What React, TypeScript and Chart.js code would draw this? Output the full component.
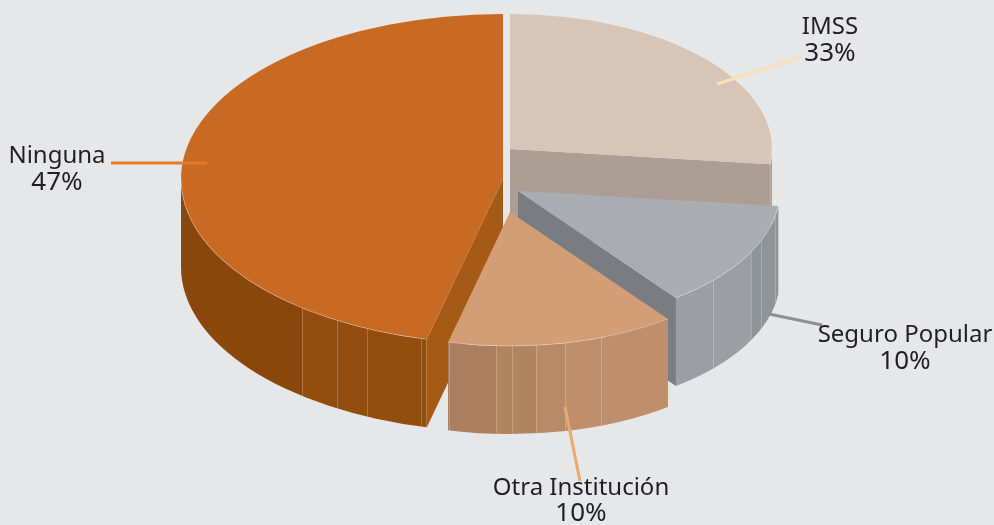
import React, { useEffect, useRef } from "react";
import { Chart, registerables } from "chart.js";

Chart.register(...registerables);

// Printed labels
const categories = ["IMSS", "Seguro Popular", "Otra Institución", "Ninguna"];
const printedPercents = ["33%", "10%", "10%", "47%"];
const drawnShares = [26.8, 12.9, 14.1, 46.2];

const topColors = ["#d7c5b7", "#a9adb2", "#d39d75", "#c86a23"];
const innerWallColors = ["#ac9e94", "#797c81", "#d39d75", "#a55a16"];

type Band = { to: number; color: string };
type Geom = { cx: number; cy: number; a: number; b: number; seams: number[]; bands: Band[] };

const DEPTH = 88;
const geometry: Geom[] = [
  { cx: 510, cy: 149, a: 262, b: 135, seams: [], bands: [{ to: 800, color: "#ac9e94" }] },
  {
    cx: 518, cy: 191, a: 262, b: 134, seams: [713, 751, 761, 775],
    bands: [{ to: 751, color: "#9b9ea2" }, { to: 800, color: "#8f9498" }],
  },
  {
    cx: 510, cy: 212, a: 262, b: 134, seams: [449, 496, 512, 536, 565, 601],
    bands: [
      { to: 496, color: "#aa7e5e" }, { to: 536, color: "#b28561" },
      { to: 565, color: "#b98a67" }, { to: 700, color: "#bf8e6c" },
    ],
  },
  {
    cx: 503, cy: 179, a: 322, b: 165, seams: [302, 337, 367, 421, 426],
    bands: [{ to: 302, color: "#8a470c" }, { to: 520, color: "#934d0e" }],
  },
];
const drawOrder = [0, 1, 3, 2];

const leaders = [
  { from: [717, 84], to: [802, 57], color: "#f8e0b8" },
  { from: [769, 314], to: [822, 325], color: "#8d8f92" },
  { from: [565, 407], to: [580, 481], color: "#e9ab6d" },
  { from: [111, 163], to: [207, 163], color: "#e8792c" },
];
const labelPlaces = [
  { x: 830, y1: 34, y2: 61 },
  { x: 905, y1: 342, y2: 369 },
  { x: 581, y1: 495, y2: 521 },
  { x: 57, y1: 163, y2: 190 },
];

const pie3d = {
  id: "pie3d",
  beforeDatasetDraw(chart: any) {
    const ctx: CanvasRenderingContext2D = chart.ctx;
    const arcs = chart.getDatasetMeta(0).data;
    for (const i of drawOrder) {
      const arc = arcs[i];
      const g = geometry[i];
      const s: number = arc.startAngle;
      const e: number = arc.endAngle;

      // outer wall: the front-facing part of the rim
      const ws = Math.max(s, 0);
      const we = Math.min(e, Math.PI);
      if (we > ws) {
        ctx.save();
        ctx.beginPath();
        ctx.ellipse(g.cx, g.cy, g.a, g.b, 0, ws, we);
        ctx.ellipse(g.cx, g.cy + DEPTH, g.a, g.b, 0, we, ws, true);
        ctx.closePath();
        ctx.clip();
        let left = 0;
        for (const band of g.bands) {
          ctx.fillStyle = band.color;
          ctx.fillRect(left, 0, band.to - left + 0.5, 525);
          left = band.to;
        }
        ctx.strokeStyle = "rgba(255,255,255,0.22)";
        ctx.lineWidth = 1;
        for (const x of g.seams) {
          const u = (x - g.cx) / g.a;
          const y = g.cy + g.b * Math.sqrt(Math.max(0, 1 - u * u));
          ctx.beginPath();
          ctx.moveTo(x + 0.5, y);
          ctx.lineTo(x + 0.5, y + DEPTH);
          ctx.stroke();
        }
        ctx.restore();
      }

      // cut walls that face the viewer
      const wall = (angle: number, normal: number) => {
        if (Math.sin(normal) <= 0.01) return;
        const px = g.cx + g.a * Math.cos(angle);
        const py = g.cy + g.b * Math.sin(angle);
        ctx.beginPath();
        ctx.moveTo(g.cx, g.cy);
        ctx.lineTo(px, py);
        ctx.lineTo(px, py + DEPTH);
        ctx.lineTo(g.cx, g.cy + DEPTH);
        ctx.closePath();
        ctx.fillStyle = innerWallColors[i];
        ctx.fill();
      };
      wall(s, s - Math.PI / 2);
      wall(e, e + Math.PI / 2);

      // top face: the library's own arc, squashed into place
      const k = g.a / arc.outerRadius;
      ctx.save();
      ctx.translate(g.cx, g.cy);
      ctx.scale(k, (g.b / g.a) * k);
      ctx.translate(-arc.x, -arc.y);
      arc.draw(ctx);
      ctx.restore();

      // light rim
      if (we > ws) {
        ctx.beginPath();
        ctx.ellipse(g.cx, g.cy, g.a, g.b, 0, ws, we);
        ctx.strokeStyle = "rgba(255,255,255,0.3)";
        ctx.lineWidth = 1;
        ctx.stroke();
      }
    }
    return false;
  },
  afterDatasetsDraw(chart: any) {
    const ctx: CanvasRenderingContext2D = chart.ctx;
    ctx.save();
    ctx.lineWidth = 3;
    for (const l of leaders) {
      ctx.strokeStyle = l.color;
      ctx.beginPath();
      ctx.moveTo(l.from[0], l.from[1]);
      ctx.lineTo(l.to[0], l.to[1]);
      ctx.stroke();
    }
    ctx.fillStyle = "#231f20";
    ctx.textAlign = "center";
    ctx.textBaseline = "alphabetic";
    categories.forEach((name, i) => {
      const p = labelPlaces[i];
      ctx.font = '400 24px "Noto Sans"';
      ctx.fillText(name, p.x, p.y1);
      ctx.font = '400 26px "Noto Sans"';
      ctx.fillText(printedPercents[i], p.x, p.y2);
    });
    ctx.restore();
  },
};

export default function App() {
  const ref = useRef<HTMLCanvasElement>(null);
  useEffect(() => {
    document.body.style.margin = "0";
    document.body.style.background = "#e6e7e9";
    const chart = new Chart(ref.current!, {
      type: "pie",
      data: {
        labels: categories,
        datasets: [{ data: drawnShares, backgroundColor: topColors, borderWidth: 0 }],
      },
      options: {
        animation: false,
        responsive: false,
        events: [],
        plugins: { legend: { display: false }, tooltip: { enabled: false }, title: { display: false } },
      },
      plugins: [pie3d],
    } as any);
    return () => chart.destroy();
  }, []);
  return (
    <div style={{ width: 994, height: 525, background: "#e6e7e9" }}>
      <canvas ref={ref} width={994} height={525} style={{ display: "block" }} />
    </div>
  );
}
